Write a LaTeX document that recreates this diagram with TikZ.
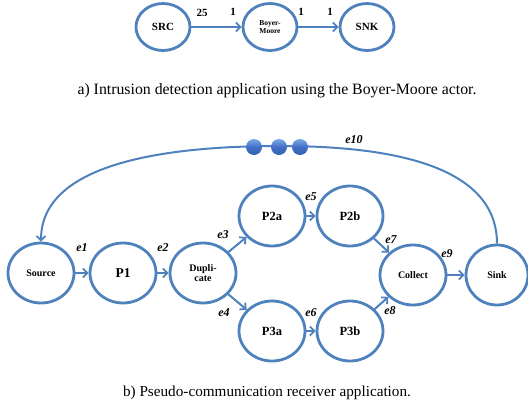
\documentclass[tikz,border=0pt]{standalone}
\usepackage{fontspec}
\setmainfont{Liberation Serif}
\usetikzlibrary{arrows.meta,shapes.geometric}
\definecolor{eblue}{RGB}{79,129,189}
\definecolor{balltop}{RGB}{120,170,230}
\definecolor{ballbot}{RGB}{45,100,175}
\tikzset{
  actor/.style={ellipse,draw=eblue,line width=2.8pt,minimum width=#1,minimum height=60pt,inner sep=0pt,font=\bfseries\fontsize{10}{10}\selectfont,align=center},
  actor/.default=66pt,
  bigtext/.style={font=\bfseries\fontsize{12.5}{12.5}\selectfont},
  sactor/.style={ellipse,draw=eblue,line width=2.8pt,minimum width=54pt,minimum height=47pt,inner sep=0pt,font=\bfseries\fontsize{11}{11}\selectfont,align=center},
  flow/.style={draw=eblue,line width=2pt,-{Straight Barb[length=4.5pt,width=9pt,line width=1.8pt]}},
  elab/.style={font=\bfseries\itshape\fontsize{12}{12}\selectfont},
  rlab/.style={font=\bfseries\fontsize{11}{11}\selectfont},
  ball/.style={circle,inner sep=0pt,minimum size=16pt,top color=balltop,bottom color=ballbot,middle color=eblue!85!blue,draw=none},
  captext/.style={font=\fontsize{15.2}{15.2}\selectfont}
}
\begin{document}
\begin{tikzpicture}[x=1pt,y=-1pt]
\useasboundingbox (0,0) rectangle (528,410);
% part a
\node[sactor] (src) at (163,27) {SRC};
\node[sactor,font=\bfseries\fontsize{7.5}{8.5}\selectfont] (bm) at (270,27) {Boyer-\\Moore};
\node[sactor] (snk) at (367,27) {SNK};
\draw[flow] (src) -- (bm);
\draw[flow] (bm) -- (snk);
\node[rlab] (l25) at (202,13) {25};
\node[rlab] (l1a) at (233,12) {1};
\node[rlab] (l1b) at (301,12) {1};
\node[rlab] (l1c) at (330,12) {1};
\node[captext,font=\fontsize{15.8}{15.8}\selectfont] (capa) at (277,91) {a) Intrusion detection application using the Boyer-Moore actor.};
% part b
\node[actor] (source) at (41,273) {Source};
\node[actor,font=\bfseries\fontsize{13.5}{13.5}\selectfont] (p1) at (123,273) {P1};
\node[actor] (dup) at (203,273) {Dupli-\\cate};
\node[actor,bigtext] (p2a) at (272,216) {P2a};
\node[actor,bigtext] (p2b) at (350,216) {P2b};
\node[actor,bigtext] (p3a) at (272,331) {P3a};
\node[actor,bigtext] (p3b) at (350,331) {P3b};
\node[actor] (collect) at (413,275) {Collect};
\node[actor,minimum width=62pt] (sink) at (497,275) {Sink};
\draw[flow] (source) -- (p1);
\draw[flow] (p1) -- (dup);
\draw[flow] (dup) -- (p2a);
\draw[flow] (dup) -- (p3a);
\draw[flow] (p2a) -- (p2b);
\draw[flow] (p3a) -- (p3b);
\draw[flow] (p2b) -- (collect);
\draw[flow] (p3b) -- (collect);
\draw[flow] (collect) -- (sink);
\coordinate (top) at (280,146);
\draw[flow] (sink.north) .. controls (497,165) and (390,146) .. (top) .. controls (150,146) and (41,168) .. (source.north);
\node[ball] (b1) at (254,147) {};
\node[ball] (b2) at (279,147) {};
\node[ball] (b3) at (300,147) {};
\node[elab] (e1) at (82,248) {e1};
\node[elab] (e2) at (163,248) {e2};
\node[elab] (e3) at (223,235) {e3};
\node[elab] (e4) at (224,313) {e4};
\node[elab] (e5) at (311,197) {e5};
\node[elab] (e6) at (311,313) {e6};
\node[elab] (e7) at (391,240) {e7};
\node[elab] (e8) at (390,311) {e8};
\node[elab] (e9) at (447,254) {e9};
\node[elab] (e10) at (354,140) {e10};
\node[captext] (capb) at (267,393) {b) Pseudo-communication receiver application.};
\end{tikzpicture}
\end{document}
